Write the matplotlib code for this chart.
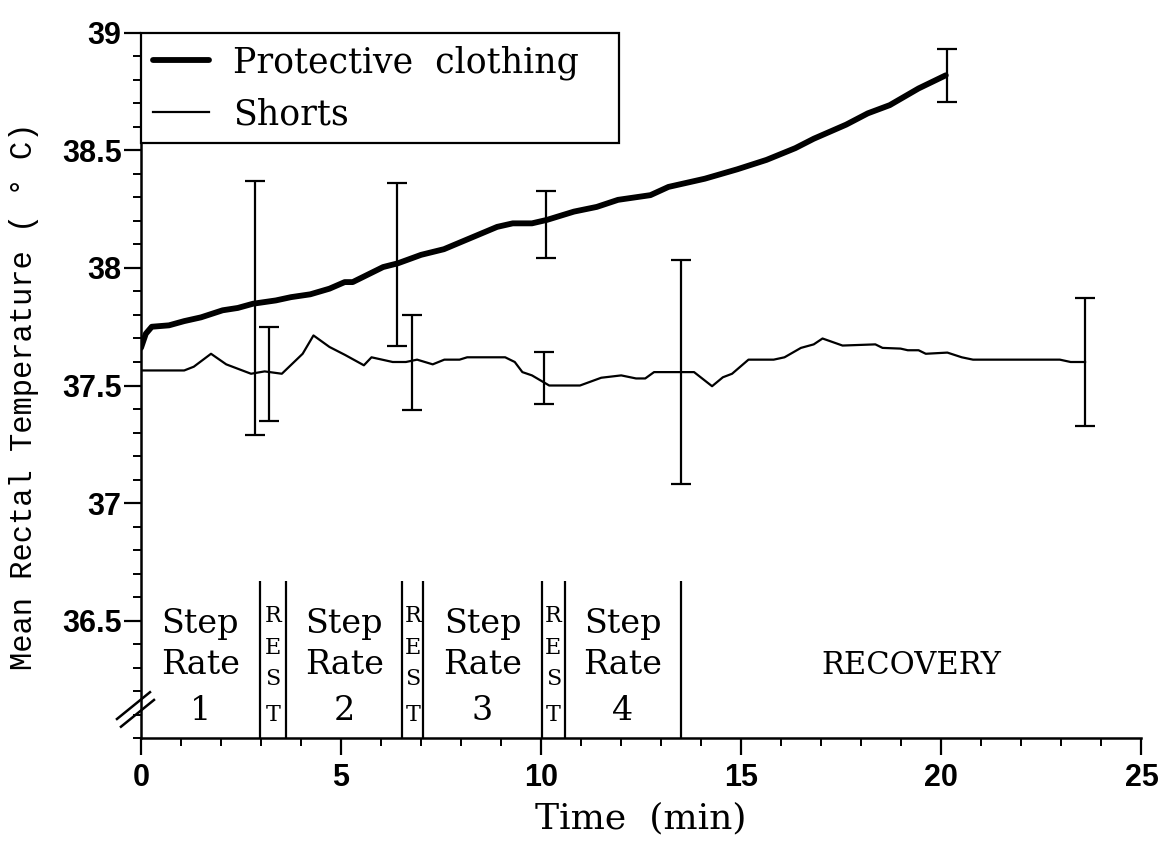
import matplotlib
matplotlib.use("Agg")
import matplotlib.pyplot as plt
from matplotlib.ticker import MultipleLocator

# ---------------- data ----------------
prot_t = [0.0, 0.12, 0.27, 0.7, 1.08, 1.5, 2.04, 2.42, 2.8, 3.37, 3.75, 4.23, 4.71, 5.09, 5.29,
          6.05, 6.42, 7.0, 7.57, 8.2, 8.9, 9.29, 9.77, 10.15, 10.82, 11.39, 11.92, 12.73, 13.18,
          14.09, 14.9, 15.63, 16.35, 16.81, 17.62, 18.16, 18.71, 19.43, 20.11]
prot_y = [37.66, 37.72, 37.75, 37.756, 37.774, 37.79, 37.82, 37.83, 37.848, 37.862, 37.876, 37.888,
          37.912, 37.94, 37.94, 38.004, 38.02, 38.056, 38.08, 38.125, 38.175, 38.19, 38.19, 38.205,
          38.24, 38.26, 38.29, 38.31, 38.345, 38.38, 38.42, 38.46, 38.51, 38.55, 38.61, 38.658,
          38.693, 38.764, 38.82]

shorts_t = [0.0, 1.08, 1.32, 1.75, 2.13, 2.75, 3.09, 3.52, 4.04, 4.31, 4.71, 5.1, 5.57, 5.76, 6.29,
            6.62, 6.9, 7.29, 7.58, 7.96, 8.15, 9.1, 9.34, 9.53, 9.77, 10.2, 10.97, 11.5, 12.0,
            12.37, 12.6, 12.82, 13.82, 14.27, 14.54, 14.77, 15.18, 15.81, 16.08, 16.49, 16.81,
            17.03, 17.53, 18.35, 18.53, 18.98, 19.16, 19.43, 19.61, 20.15, 20.51, 20.79, 22.96,
            23.23, 23.59]
shorts_y = [37.564, 37.564, 37.58, 37.635, 37.59, 37.55, 37.56, 37.55, 37.635, 37.713, 37.664, 37.63,
            37.586, 37.62, 37.6, 37.6, 37.61, 37.59, 37.61, 37.61, 37.62, 37.62, 37.6, 37.557,
            37.543, 37.5, 37.5, 37.533, 37.543, 37.53, 37.53, 37.557, 37.557, 37.497, 37.535,
            37.55, 37.61, 37.61, 37.62, 37.66, 37.675, 37.7, 37.67, 37.675, 37.66, 37.657, 37.65,
            37.65, 37.635, 37.64, 37.62, 37.61, 37.61, 37.6, 37.6]

prot_err_t = [2.85, 6.4, 10.13, 20.13]
prot_err_y = [37.83, 38.013, 38.186, 38.818]
prot_err = [0.54, 0.347, 0.142, 0.112]

shorts_err_t = [3.19, 6.77, 10.07, 13.5, 23.6]
shorts_err_y = [37.55, 37.598, 37.532, 37.557, 37.6]
shorts_err = [0.2, 0.203, 0.111, 0.475, 0.273]

phase_bounds = [0, 2.97, 3.63, 6.53, 7.05, 10.02, 10.59, 13.5, 25]
phase_labels = ["Step Rate 1", "REST", "Step Rate 2", "REST", "Step Rate 3", "REST",
                "Step Rate 4", "RECOVERY"]

xticks = [0, 5, 10, 15, 20, 25]
yticks = [36.5, 37, 37.5, 38, 38.5, 39]
ytick_labels = ["36.5", "37", "37.5", "38", "38.5", "39"]

# ---------------- figure ----------------
fig = plt.figure(figsize=(11.68, 8.48), dpi=100)
ax = fig.add_axes([0.1207, 0.1297, 0.8566, 0.8314])
ax.set_xlim(0, 25)
ax.set_ylim(36, 39)

serif = "DejaVu Serif"

l1, = ax.plot(prot_t, prot_y, color="black", lw=4.2, solid_capstyle="round",
              solid_joinstyle="round", label="Protective  clothing", zorder=3)
l2, = ax.plot(shorts_t, shorts_y, color="black", lw=1.6, label="Shorts", zorder=3)

ax.errorbar(prot_err_t, prot_err_y, yerr=prot_err, fmt="none", ecolor="black",
            elinewidth=1.6, capsize=7, capthick=1.6, zorder=4)
ax.errorbar(shorts_err_t, shorts_err_y, yerr=shorts_err, fmt="none", ecolor="black",
            elinewidth=1.6, capsize=7, capthick=1.6, zorder=4)

# phase dividers
ax.vlines(phase_bounds[1:-1], 36, 36.67, color="black", lw=1.6)

# phase labels
for i, lab in enumerate(phase_labels):
    cx = (phase_bounds[i] + phase_bounds[i + 1]) / 2
    if lab == "REST":
        for ch, yy in zip("REST", [36.52, 36.385, 36.25, 36.10]):
            ax.text(cx, yy, ch, ha="center", va="center", family=serif, fontsize=16)
    elif lab == "RECOVERY":
        ax.text(cx, 36.31, lab, ha="center", va="center", family=serif, fontsize=22)
    else:
        w1, w2, n = lab.split(" ")
        for s, yy in zip([w1, w2, n], [36.485, 36.31, 36.115]):
            ax.text(cx, yy, s, ha="center", va="center", family=serif, fontsize=24)

# axes styling
for side in ["top", "right"]:
    ax.spines[side].set_visible(False)
for side in ["left", "bottom"]:
    ax.spines[side].set_linewidth(1.8)

ax.set_xticks(xticks)
ax.set_yticks(yticks)
ax.set_yticklabels(ytick_labels)
ax.xaxis.set_minor_locator(MultipleLocator(1))
ax.yaxis.set_minor_locator(MultipleLocator(0.1))
ax.tick_params(axis="both", which="major", length=12, width=1.6, direction="out")
ax.tick_params(axis="both", which="minor", length=6, width=1.4, direction="out")
ax.tick_params(axis="x", which="major", pad=6)
ax.tick_params(axis="y", which="major", pad=2)
for lbl in ax.get_xticklabels() + ax.get_yticklabels():
    lbl.set_fontfamily("Liberation Sans")
    lbl.set_fontweight("bold")
    lbl.set_fontsize(22)

ax.set_xlabel("Time  (min)", family=serif, fontsize=26, labelpad=6)
ax.set_ylabel("Mean Rectal Temperature ( \u00b0 C)", family="Liberation Mono",
              fontsize=22, labelpad=14)
ax.yaxis.set_label_coords(-0.102, 0.485)

# axis break marks
for dx, dy in [(0.0, 0.0), (0.004, -0.011)]:
    ax.plot([-0.024 + dx, 0.009 + dx], [0.027 + dy, 0.065 + dy], transform=ax.transAxes,
            color="black", lw=1.8, clip_on=False, zorder=5)

leg = ax.legend(handles=[l1, l2], loc="upper left", bbox_to_anchor=(0, 1, 0.4775, 0),
                mode="expand", borderaxespad=0, fancybox=False, framealpha=1,
                edgecolor="black", prop={"family": serif, "size": 25},
                handlelength=1.6, handletextpad=0.7, borderpad=0.35, labelspacing=0.5)
leg.get_frame().set_linewidth(1.6)
leg.set_zorder(6)

fig.savefig("out.png", dpi=100)
